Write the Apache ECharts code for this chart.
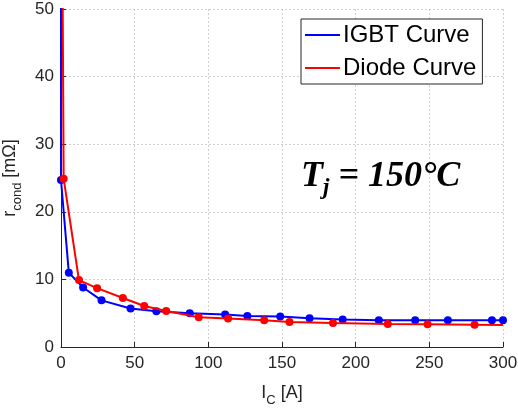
<!DOCTYPE html>
<html><head><meta charset="utf-8">
<script src="https://cdn.jsdelivr.net/npm/echarts@6/dist/echarts.min.js"></script>
<style>html,body{margin:0;padding:0;background:#fff}#c{width:518px;height:410px}</style>
</head><body><div id="c"></div>
<script>
const xTicks = [0, 50, 100, 150, 200, 250, 300];
const yTicks = [0, 10, 20, 30, 40, 50];
const igbtIc = [0, 0, 5.3, 15, 27.5, 47.2, 64.7, 87.4, 111.4, 126.5, 148.8, 168.7, 191.2, 215.7, 240.4, 262.6, 292.5, 300];
const igbtR  = [80, 24.7, 11.0, 8.8, 6.9, 5.7, 5.3, 5.0, 4.8, 4.6, 4.5, 4.25, 4.05, 3.95, 3.95, 3.95, 3.95, 3.95];
const diodeIc = [0.4, 1.8, 12.2, 24.5, 42, 56.5, 71.4, 93.5, 113.4, 137.9, 155.1, 184.6, 221.8, 248.8, 280.7, 300];
const diodeR  = [80, 24.9, 9.9, 8.7, 7.25, 6.07, 5.33, 4.4, 4.2, 3.95, 3.7, 3.55, 3.4, 3.35, 3.3, 3.25];
const seriesNames = ['IGBT Curve', 'Diode Curve'];

function pts(xs, ys, hideFirst, hideLast) {
  return xs.map((x, i) => {
    const d = { value: [x, ys[i]] };
    if ((hideFirst && i === 0) || (hideLast && i === xs.length - 1)) d.symbol = 'none';
    return d;
  });
}

const chart = echarts.init(document.getElementById('c'), null, { renderer: 'canvas' });
const txt = '#262626';
chart.setOption({
  animation: false,
  backgroundColor: '#fff',
  grid: { left: 61, right: 15, top: 9, bottom: 63, containLabel: false, outerBoundsMode: 'none' },
  legend: {
    orient: 'vertical', left: 301, top: 19,
    data: seriesNames.map(n => ({ name: n, icon: 'rect' })),
    itemWidth: 35, itemHeight: 2, itemGap: 9,
    padding: [4, 6, 4, 4],
    borderColor: '#262626', borderWidth: 1, backgroundColor: '#fff',
    textStyle: { fontFamily: 'Liberation Sans, Arial', fontSize: 24, color: '#000', padding: [0, 0, 0, -2] },
    selectedMode: false
  },
  xAxis: {
    type: 'value', min: 0, max: 300, interval: 50,
    name: '{a|I}{s|C}{a| [A]}', nameLocation: 'middle', nameGap: 32,
    nameTextStyle: {
      rich: {
        a: { fontFamily: 'Liberation Sans, Arial', fontSize: 18, color: txt, lineHeight: 28, verticalAlign: 'middle' },
        s: { fontFamily: 'Liberation Sans, Arial', fontSize: 13, color: txt, lineHeight: 28, verticalAlign: 'bottom' }
      }
    },
    axisLine: { lineStyle: { color: txt, width: 1 } },
    axisTick: { inside: true, length: 5, lineStyle: { color: txt } },
    axisLabel: { fontFamily: 'Liberation Sans, Arial', fontSize: 17, color: txt, margin: 8,
      formatter: v => xTicks.includes(v) ? String(v) : '' },
    splitLine: { show: true, lineStyle: { color: '#cfcfcf', type: [2, 2], width: 1 } }
  },
  yAxis: {
    type: 'value', min: 0, max: 50, interval: 10,
    name: '{a|r}{s|cond}{a| [mΩ]}', nameLocation: 'middle', nameGap: 25, nameRotate: 90,
    nameTextStyle: {
      rich: {
        a: { fontFamily: 'Liberation Sans, Arial', fontSize: 18, color: txt, lineHeight: 28, verticalAlign: 'middle' },
        s: { fontFamily: 'Liberation Sans, Arial', fontSize: 13, color: txt, lineHeight: 28, verticalAlign: 'bottom' }
      }
    },
    axisLine: { show: true, lineStyle: { color: txt, width: 1 } },
    axisTick: { show: true, inside: true, length: 5, lineStyle: { color: txt } },
    axisLabel: { fontFamily: 'Liberation Sans, Arial', fontSize: 17, color: txt, margin: 7,
      formatter: v => yTicks.includes(v) ? String(v) : '' },
    splitLine: { show: true, lineStyle: { color: '#cfcfcf', type: [2, 2], width: 1 } }
  },
  series: [
    {
      name: seriesNames[0], type: 'line', data: pts(igbtIc, igbtR, true, false),
      color: '#0000ff', lineStyle: { width: 2, color: '#0000ff' },
      symbol: 'circle', symbolSize: 8, itemStyle: { color: '#0000ff' }, clip: true, z: 3
    },
    {
      name: seriesNames[1], type: 'line', data: pts(diodeIc, diodeR, true, true),
      color: '#ff0000', lineStyle: { width: 2, color: '#ff0000' },
      symbol: 'circle', symbolSize: 8, itemStyle: { color: '#ff0000' }, clip: true, z: 4
    }
  ],
  graphic: [{
    type: 'text', left: 301, top: 159, z: 10,
    style: {
      text: '{m|T}{j|j}{m| = 150°C}',
      rich: {
        m: { fontFamily: 'Liberation Serif, Times New Roman', fontWeight: 'bold', fontStyle: 'italic', fontSize: 36, fill: '#000', lineHeight: 46, verticalAlign: 'middle' },
        j: { fontFamily: 'Liberation Serif, Times New Roman', fontWeight: 'bold', fontStyle: 'italic', fontSize: 23, fill: '#000', lineHeight: 46, verticalAlign: 'bottom' }
      }
    }
  }]
});
</script></body></html>
